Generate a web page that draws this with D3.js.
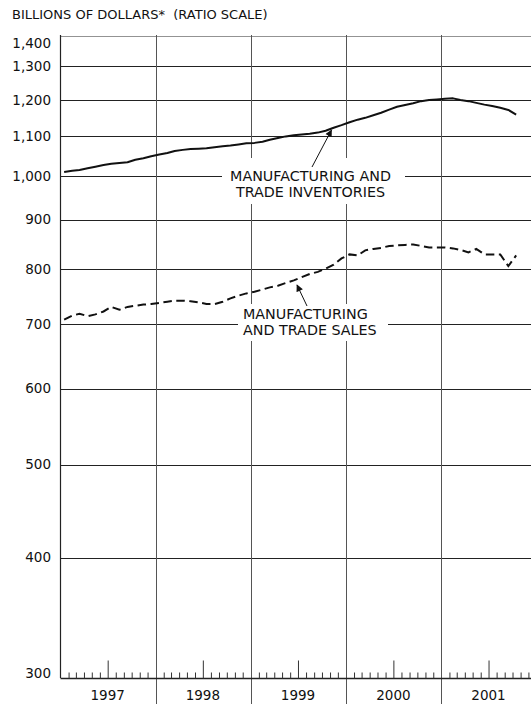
<!DOCTYPE html>
<html><head><meta charset="utf-8">
<script src="https://cdn.jsdelivr.net/npm/d3@7"></script>
<style>
body{margin:0;background:#fff}
svg{display:block}
text{font-family:"DejaVu Sans",sans-serif;fill:#111}
</style>
</head><body>
<svg id="c" width="531" height="704"></svg>
<script>
// ---- data (monthly, Jan 1997 – Oct 2001, billions of dollars) ----
const startYear = 1997;
const inventories = [
  1009,1012,1014,1018,1022,1026,1029,1031,1033,1039,1043,1048,
  1052,1056,1061,1064,1066,1067,1068,1071,1073,1075,1078,1081,
  1082,1085,1090,1095,1099,1102,1104,1106,1109,1114,1122,1129,
  1137,1144,1149,1156,1163,1172,1180,1185,1190,1196,1199,1201,
  1203,1204,1199,1196,1191,1186,1182,1177,1171,1158
];
const sales = [
  708,715,718,714,717,722,730,725,730,732,734,735,
  737,739,741,741,740,738,735,735,739,745,750,754,
  757,761,765,768,773,778,784,790,794,800,808,820,
  828,826,836,839,841,845,846,847,848,845,842,842,
  842,840,837,832,839,828,828,828,805,826
];
const yTicks = [400,500,600,700,800,900,1000,1100,1200,1300,1400];
const yLabelTicks = [300,400,500,600,700,800,900,1000,1100,1200,1300,1400];
const yearLabels = ["1997","1998","1999","2000","2001"];
const axisTitle = "BILLIONS OF DOLLARS*  (RATIO SCALE)";
const invLabel = ["MANUFACTURING AND","TRADE INVENTORIES"];
const salesLabel = ["MANUFACTURING","AND TRADE SALES"];

// ---- scales ----
const svg = d3.select("#c");
const x = d3.scaleTime().domain([new Date(1997,0,1), new Date(2002,0,1)]).range([60.5, 536.5]);
const y = d3.scaleLog().domain([300,1400]).range([677.5, 35.5]);
const date = i => new Date(startYear, i, 15);
const W = 531;

// horizontal grid
svg.append("g").selectAll("line").data(yTicks).join("line")
  .attr("x1", 60.5).attr("x2", W)
  .attr("y1", d => Math.round(y(d)) + 0.5).attr("y2", d => Math.round(y(d)) + 0.5)
  .attr("stroke", d => d === 1400 ? "#777" : "#222")
  .attr("stroke-width", d => d === 1400 ? 0.8 : 1.1);

// vertical year lines
const yearBounds = d3.range(1998, 2002).map(yr => new Date(yr,0,1));
svg.append("g").selectAll("line").data(yearBounds).join("line")
  .attr("x1", d => Math.round(x(d)) + 0.5).attr("x2", d => Math.round(x(d)) + 0.5)
  .attr("y1", 35).attr("y2", 704)
  .attr("stroke", "#555").attr("stroke-width", 1);

// left axis line
svg.append("line").attr("x1", 60.5).attr("x2", 60.5).attr("y1", 35).attr("y2", 678)
  .attr("stroke", "#222").attr("stroke-width", 1.2);

// bottom baseline
svg.append("line").attr("x1", 60.5).attr("x2", W)
  .attr("y1", Math.round(y(300)) + 0.5).attr("y2", Math.round(y(300)) + 0.5)
  .attr("stroke", "#222").attr("stroke-width", 1.3);

// monthly ticks
const monthTicks = d3.timeMonth.range(new Date(1997,1,1), new Date(2002,0,1))
  .filter(d => d.getMonth() !== 0);
const xAxis = d3.axisTop(x).tickValues(monthTicks).tickSize(6).tickFormat("");
const gx = svg.append("g").attr("transform", `translate(0,${Math.round(y(300)) + 0.5})`).call(xAxis);
gx.select(".domain").remove();
gx.selectAll(".tick line").attr("stroke", "#333").attr("stroke-width", 1)
  .attr("y2", d => d.getMonth() === 6 ? -18 : -6);

// y labels
const yAxis = d3.axisLeft(y).tickValues(yLabelTicks).tickSize(0).tickPadding(9.5)
  .tickFormat(d3.format(","));
const gy = svg.append("g").attr("transform", "translate(60.5,0)").call(yAxis);
gy.select(".domain").remove();
gy.selectAll("text").attr("font-size", 13.5).attr("font-family", "DejaVu Sans").attr("fill", "#111")
  .attr("dy", d => d === 1400 ? "0.9em" : d === 300 ? "0.0em" : "0.32em");

// year labels
svg.append("g").selectAll("text").data(yearLabels).join("text")
  .attr("x", d => x(new Date(+d, 6, 1)))
  .attr("y", 700)
  .attr("text-anchor", "middle")
  .attr("font-size", 13.5)
  .text(d => d);

// title
svg.append("text").attr("x", 12).attr("y", 19).attr("font-size", 13)
  .attr("xml:space", "preserve").text(axisTitle);

// lines
const line = d3.line().x((d,i) => x(date(i))).y(d => y(d));
svg.append("path").datum(inventories).attr("d", line)
  .attr("fill", "none").attr("stroke", "#111").attr("stroke-width", 2).attr("stroke-linejoin", "round");
svg.append("path").datum(sales).attr("d", line)
  .attr("fill", "none").attr("stroke", "#111").attr("stroke-width", 2)
  .attr("stroke-dasharray", "8.5,4.5");

// arrow marker
svg.append("defs").append("marker").attr("id", "ah")
  .attr("viewBox", "0 0 10 10").attr("refX", 9).attr("refY", 5)
  .attr("markerWidth", 8).attr("markerHeight", 7).attr("markerUnits", "userSpaceOnUse")
  .attr("orient", "auto")
  .append("path").attr("d", "M0,0 L10,5 L0,10 z").attr("fill", "#111");

// inventory label
svg.append("rect").attr("x", 222).attr("y", 158).attr("width", 183).attr("height", 46).attr("fill", "#fff");
svg.append("g").selectAll("text").data(invLabel).join("text")
  .attr("x", 310.5).attr("y", (d,i) => 181 + i*16)
  .attr("text-anchor", "middle").attr("font-size", 14.3).text(d => d);
svg.append("line").attr("x1", 312).attr("y1", 167).attr("x2", 331.5).attr("y2", 130)
  .attr("stroke", "#111").attr("stroke-width", 1).attr("marker-end", "url(#ah)");

// sales label
svg.append("rect").attr("x", 238).attr("y", 304).attr("width", 150).attr("height", 37).attr("fill", "#fff");
svg.append("g").selectAll("text").data(salesLabel).join("text")
  .attr("x", 243).attr("y", (d,i) => 319 + i*16)
  .attr("font-size", 14.3).text(d => d);
svg.append("line").attr("x1", 307).attr("y1", 306).attr("x2", 297).attr("y2", 285)
  .attr("stroke", "#111").attr("stroke-width", 1).attr("marker-end", "url(#ah)");
</script>
</body></html>
